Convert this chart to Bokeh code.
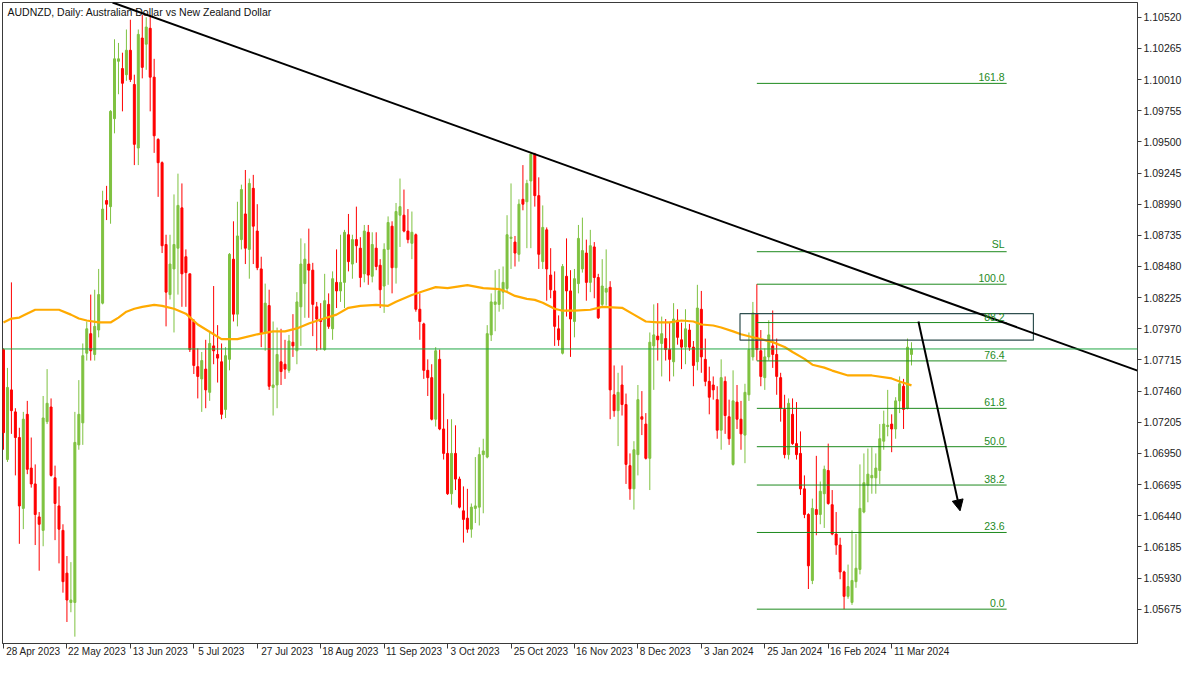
from bokeh.plotting import figure
from bokeh.models import (ColumnDataSource, FixedTicker, Range1d, Label, LabelSet, LinearAxis,
                          Arrow, NormalHead, Span, PrintfTickFormatter)
from bokeh.core.properties import value
from bokeh.embed import file_html
from bokeh.resources import INLINE

# ---------------- data (AUDNZD daily) ----------------
xtick_idx = [0, 16, 32, 48, 64, 80, 96, 112, 128, 144, 160, 176, 192, 208, 224]
xtick_labels = ["28 Apr 2023", "22 May 2023", "13 Jun 2023", "5 Jul 2023", "27 Jul 2023",
                "18 Aug 2023", "11 Sep 2023", "3 Oct 2023", "25 Oct 2023", "16 Nov 2023",
                "8 Dec 2023", "3 Jan 2024", "25 Jan 2024", "16 Feb 2024", "11 Mar 2024"]

ytick_values = [1.05675, 1.05930, 1.06185, 1.06440, 1.06695, 1.06950, 1.07205, 1.07460,
                1.07715, 1.07970, 1.08225, 1.08480, 1.08735, 1.08990, 1.09245, 1.09500,
                1.09755, 1.10010, 1.10265, 1.10520]

opens = [
1.0780, 1.0690, 1.0747, 1.0729, 1.0708, 1.0650, 1.0727, 1.0683, 1.0670, 1.0643,
1.0632, 1.0721, 1.0733, 1.0675, 1.0652, 1.0632, 1.0597, 1.0573, 1.0573, 1.0702,
1.0720, 1.0777, 1.0793, 1.0776, 1.0796, 1.0818, 1.0902, 1.0897, 1.0969, 1.1016,
1.1010, 1.1005, 1.1025, 1.0997, 1.0945, 1.1035, 1.1030, 1.1043, 1.1003, 1.0952,
1.0933, 1.0866, 1.0825, 1.0846, 1.0863, 1.0896, 1.0856, 1.0842, 1.0803, 1.0766,
1.0756, 1.0764, 1.0745, 1.0783, 1.0776, 1.0770, 1.0731, 1.0772, 1.0854, 1.0809,
1.0870, 1.0891, 1.0862, 1.0912, 1.0877, 1.0846, 1.0794, 1.0816, 1.0749, 1.0751,
1.0770, 1.0768, 1.0763, 1.0786, 1.0779, 1.0815, 1.0834, 1.0850, 1.0845, 1.0815,
1.0804, 1.0780, 1.0817, 1.0797, 1.0835, 1.0828, 1.0835, 1.0874, 1.0850, 1.0870,
1.0863, 1.0842, 1.0876, 1.0840, 1.0863, 1.0849, 1.0832, 1.0862, 1.0881, 1.0847,
1.0890, 1.0890, 1.0877, 1.0867, 1.0874, 1.0813, 1.0801, 1.0763, 1.0757, 1.0723,
1.0772, 1.0715, 1.0695, 1.0662, 1.0695, 1.0674, 1.0648, 1.0642, 1.0633, 1.0650,
1.0651, 1.0694, 1.0692, 1.0792, 1.0817, 1.0817, 1.0827, 1.0830, 1.0871, 1.0868,
1.0858, 1.0903, 1.0901, 1.0918, 1.0940, 1.0906, 1.0852, 1.0878, 1.0841, 1.0828,
1.0797, 1.0777, 1.0840, 1.0828, 1.0803, 1.0834, 1.0846, 1.0859, 1.0835, 1.0864,
1.0839, 1.0817, 1.0827, 1.0831, 1.0743, 1.0730, 1.0751, 1.0735, 1.0685, 1.0666,
1.0694, 1.0725, 1.0719, 1.0691, 1.0783, 1.0791, 1.0785, 1.0789, 1.0780, 1.0770,
1.0804, 1.0788, 1.0782, 1.0796, 1.0782, 1.0770, 1.0813, 1.0772, 1.0754, 1.0751,
1.0739, 1.0714, 1.0754, 1.0725, 1.0686, 1.0737, 1.0723, 1.0710, 1.0743, 1.0774,
1.0809, 1.0779, 1.0757, 1.0774, 1.0783, 1.0776, 1.0757, 1.0731, 1.0694, 1.0727,
1.0703, 1.0695, 1.0666, 1.0645, 1.0591, 1.0649, 1.0645, 1.0662, 1.0681, 1.0653,
1.0629, 1.0620, 1.0598, 1.0578, 1.0573, 1.0590, 1.0600, 1.0647, 1.0669, 1.0675,
1.0675, 1.0681, 1.0705, 1.0717, 1.0719, 1.0715, 1.0738, 1.0750, 1.0732, 1.0776]

highs = [
1.0781, 1.0765, 1.0835, 1.0732, 1.0716, 1.0729, 1.0738, 1.0708, 1.0686, 1.0647,
1.0742, 1.0764, 1.0740, 1.0685, 1.0668, 1.0637, 1.0611, 1.0606, 1.0729, 1.0755,
1.0785, 1.0803, 1.0825, 1.0829, 1.0846, 1.0910, 1.0914, 1.0976, 1.1034, 1.1031,
1.1023, 1.1042, 1.1050, 1.1005, 1.1042, 1.1054, 1.1052, 1.1054, 1.1018, 1.0953,
1.0934, 1.0874, 1.0874, 1.0907, 1.0924, 1.0916, 1.0862, 1.0842, 1.0805, 1.0781,
1.0778, 1.0788, 1.0794, 1.0832, 1.0800, 1.0785, 1.0782, 1.0859, 1.0885, 1.0901,
1.0915, 1.0927, 1.0920, 1.0923, 1.0899, 1.0856, 1.0834, 1.0829, 1.0803, 1.0798,
1.0797, 1.0788, 1.0792, 1.0809, 1.0827, 1.0871, 1.0867, 1.0879, 1.0851, 1.0819,
1.0818, 1.0842, 1.0826, 1.0844, 1.0862, 1.0874, 1.0878, 1.0891, 1.0874, 1.0897,
1.0872, 1.0882, 1.0882, 1.0876, 1.0876, 1.0854, 1.0867, 1.0889, 1.0885, 1.0900,
1.0920, 1.0911, 1.0895, 1.0893, 1.0875, 1.0826, 1.0802, 1.0772, 1.0768, 1.0782,
1.0780, 1.0744, 1.0723, 1.0723, 1.0718, 1.0676, 1.0668, 1.0666, 1.0654, 1.0692,
1.0700, 1.0707, 1.0800, 1.0826, 1.0845, 1.0846, 1.0848, 1.0890, 1.0916, 1.0873,
1.0903, 1.0931, 1.0919, 1.0941, 1.0941, 1.0921, 1.0898, 1.0880, 1.0863, 1.0844,
1.0808, 1.0850, 1.0871, 1.0845, 1.0846, 1.0882, 1.0888, 1.0870, 1.0878, 1.0868,
1.0842, 1.0854, 1.0862, 1.0836, 1.0767, 1.0761, 1.0767, 1.0744, 1.0695, 1.0705,
1.0751, 1.0746, 1.0728, 1.0794, 1.0817, 1.0818, 1.0807, 1.0805, 1.0802, 1.0818,
1.0813, 1.0802, 1.0813, 1.0801, 1.0787, 1.0833, 1.0828, 1.0789, 1.0766, 1.0758,
1.0750, 1.0772, 1.0758, 1.0739, 1.0763, 1.0751, 1.0738, 1.0752, 1.0794, 1.0819,
1.08335, 1.0796, 1.0781, 1.0804, 1.0812, 1.0789, 1.0761, 1.0743, 1.0740, 1.0740,
1.0737, 1.0713, 1.0677, 1.0646, 1.0658, 1.0693, 1.0672, 1.0685, 1.0703, 1.0665,
1.0647, 1.0626, 1.0599, 1.0604, 1.0632, 1.0629, 1.0686, 1.0695, 1.0699, 1.0700,
1.0695, 1.0719, 1.0730, 1.0747, 1.0727, 1.0741, 1.0758, 1.0756, 1.0789, 1.0786]

lows = [
1.0698, 1.0688, 1.0711, 1.0677, 1.0621, 1.0633, 1.0678, 1.0667, 1.0620, 1.0599,
1.0619, 1.0719, 1.0676, 1.0624, 1.0605, 1.0581, 1.0557, 1.0565, 1.0545, 1.0698,
1.0702, 1.0771, 1.0771, 1.0771, 1.0790, 1.0817, 1.0886, 1.0883, 1.0957, 1.0989,
1.0975, 1.1000, 1.0999, 1.0931, 1.0931, 1.1002, 1.1009, 1.0975, 1.0941, 1.0905,
1.0859, 1.0799, 1.0821, 1.0794, 1.0825, 1.0815, 1.0815, 1.0778, 1.0760, 1.0740,
1.0729, 1.0732, 1.0738, 1.0768, 1.0753, 1.0723, 1.0724, 1.0763, 1.0803, 1.0799,
1.0862, 1.0850, 1.0838, 1.0850, 1.0845, 1.0782, 1.0779, 1.0747, 1.0726, 1.0732,
1.0751, 1.0756, 1.0761, 1.0774, 1.0768, 1.0783, 1.0806, 1.0806, 1.0791, 1.0779,
1.0780, 1.0779, 1.0797, 1.0788, 1.0814, 1.0819, 1.0814, 1.0844, 1.0838, 1.0851,
1.0831, 1.0835, 1.0833, 1.0835, 1.0845, 1.0814, 1.0810, 1.0833, 1.0826, 1.0834,
1.0864, 1.0876, 1.0867, 1.0854, 1.0811, 1.0788, 1.0756, 1.0742, 1.0722, 1.0717,
1.0714, 1.0690, 1.0661, 1.0653, 1.0665, 1.0650, 1.0622, 1.0630, 1.0626, 1.0638,
1.0636, 1.0646, 1.0691, 1.0787, 1.0795, 1.0811, 1.0813, 1.0827, 1.0846, 1.0848,
1.0852, 1.0894, 1.0863, 1.0863, 1.0897, 1.0846, 1.0846, 1.0820, 1.0822, 1.0783,
1.0783, 1.0776, 1.0807, 1.0774, 1.0790, 1.0826, 1.0843, 1.0820, 1.0827, 1.0822,
1.0805, 1.0815, 1.0816, 1.0723, 1.0725, 1.0701, 1.0726, 1.0670, 1.0657, 1.0649,
1.0677, 1.0710, 1.0690, 1.0665, 1.0747, 1.0771, 1.0758, 1.0771, 1.0754, 1.0758,
1.0784, 1.0764, 1.0768, 1.0779, 1.0750, 1.0763, 1.0761, 1.0750, 1.0727, 1.0739,
1.0707, 1.0698, 1.0711, 1.0702, 1.0685, 1.0715, 1.0698, 1.0687, 1.0738, 1.0771,
1.0771, 1.0750, 1.0747, 1.0771, 1.0765, 1.0743, 1.0721, 1.0691, 1.0690, 1.0702,
1.0690, 1.0661, 1.0642, 1.0584, 1.0588, 1.0628, 1.0637, 1.0634, 1.0653, 1.0628,
1.0612, 1.0592, 1.05675, 1.0576, 1.0571, 1.0585, 1.0596, 1.0646, 1.0655, 1.0662,
1.0662, 1.0670, 1.0698, 1.0709, 1.0696, 1.0707, 1.0728, 1.0715, 1.0731, 1.0767]

closes = [
1.0712, 1.0749, 1.0730, 1.0708, 1.0652, 1.0723, 1.0682, 1.0670, 1.0645, 1.0637,
1.0724, 1.0736, 1.0677, 1.0654, 1.0633, 1.0590, 1.0575, 1.0575, 1.0704, 1.0727,
1.0775, 1.0797, 1.0779, 1.0799, 1.0825, 1.0895, 1.0899, 1.0975, 1.1018, 1.1018,
1.0998, 1.1025, 1.1001, 1.0948, 1.1038, 1.1011, 1.1044, 1.1003, 1.0955, 1.0933,
1.0865, 1.0827, 1.0850, 1.0866, 1.0898, 1.0842, 1.0843, 1.0780, 1.0767, 1.0758,
1.0771, 1.0747, 1.0785, 1.0779, 1.0773, 1.0727, 1.0775, 1.0858, 1.0809, 1.0873,
1.0911, 1.0863, 1.0916, 1.0881, 1.0847, 1.0793, 1.0818, 1.0750, 1.0751, 1.0776,
1.0762, 1.0764, 1.0787, 1.0783, 1.0819, 1.0850, 1.0854, 1.0845, 1.0817, 1.0805,
1.0803, 1.0820, 1.0799, 1.0838, 1.0828, 1.0835, 1.0876, 1.0852, 1.0870, 1.0865,
1.0839, 1.0877, 1.0841, 1.0866, 1.0848, 1.0829, 1.0862, 1.0884, 1.0847, 1.0893,
1.0897, 1.0877, 1.0870, 1.0876, 1.0813, 1.0803, 1.0763, 1.0757, 1.0723, 1.0779,
1.0715, 1.0695, 1.0662, 1.0695, 1.0674, 1.0651, 1.0641, 1.0633, 1.0651, 1.0652,
1.0694, 1.0697, 1.0793, 1.0819, 1.0819, 1.0828, 1.0835, 1.0874, 1.0872, 1.0859,
1.0899, 1.0899, 1.0916, 1.0940, 1.0906, 1.0858, 1.0880, 1.0846, 1.0829, 1.0799,
1.0788, 1.0848, 1.0828, 1.0805, 1.0838, 1.0871, 1.0861, 1.0835, 1.0865, 1.0839,
1.0806, 1.0832, 1.0830, 1.0747, 1.0730, 1.0745, 1.0735, 1.0686, 1.0666, 1.0698,
1.0739, 1.0723, 1.0691, 1.0786, 1.0792, 1.0788, 1.0793, 1.0780, 1.0772, 1.0805,
1.0790, 1.0782, 1.0797, 1.0782, 1.0767, 1.0814, 1.0774, 1.0754, 1.0741, 1.0747,
1.0714, 1.0757, 1.0726, 1.0707, 1.0738, 1.0723, 1.0711, 1.0745, 1.0780, 1.0810,
1.0780, 1.0758, 1.0774, 1.0792, 1.0776, 1.0758, 1.0732, 1.0694, 1.0736, 1.0703,
1.0694, 1.0666, 1.0645, 1.0603, 1.0650, 1.0645, 1.0664, 1.0682, 1.0654, 1.0629,
1.0620, 1.0598, 1.0578, 1.0586, 1.0591, 1.0601, 1.0650, 1.0671, 1.0678, 1.0677,
1.0683, 1.0707, 1.0719, 1.0718, 1.0715, 1.0738, 1.0752, 1.0731, 1.0782, 1.07805]

# moving average (read at sampled bars)
ma_idx = [0, 2, 4, 5, 8, 14, 17, 19, 21, 24, 27, 29, 31, 33, 35, 38, 40, 43, 46, 49,
          53, 55, 59, 64, 68, 71, 74, 77, 80, 84, 87, 90, 94, 97, 99, 103, 106, 109, 112,
          117, 121, 125, 127, 129, 132, 134, 136, 139, 141, 144, 148, 151, 156, 159, 162,
          165, 168, 171, 174, 176, 179, 181, 184, 186, 189, 191, 194, 197, 199, 202, 204,
          207, 209, 213, 216, 219, 224, 226, 229]
ma_values = [1.08022, 1.08054, 1.08062, 1.08078, 1.08126, 1.08126, 1.08086, 1.08054,
             1.08038, 1.08022, 1.08022, 1.08062, 1.08110, 1.08134, 1.08150, 1.08166,
             1.08158, 1.08134, 1.08094, 1.08005, 1.07925, 1.07885, 1.07885, 1.07925,
             1.07949, 1.07949, 1.07973, 1.08014, 1.08046, 1.08086, 1.08142, 1.08158,
             1.08166, 1.08158, 1.08191, 1.08247, 1.08279, 1.08311, 1.08303, 1.08327,
             1.08303, 1.08295, 1.08271, 1.08239, 1.08215, 1.08207, 1.08183, 1.08134,
             1.08118, 1.08118, 1.08126, 1.08150, 1.08142, 1.08086, 1.08030, 1.08022,
             1.08022, 1.08038, 1.08030, 1.08005, 1.07997, 1.07981, 1.07949, 1.07925,
             1.07901, 1.07885, 1.07861, 1.07821, 1.07780, 1.07724, 1.07676, 1.07652,
             1.07628, 1.07588, 1.07588, 1.07588, 1.07564, 1.07539, 1.07507]

last_price = 1.07805

fib_ratios = [0.0, 0.236, 0.382, 0.5, 0.618, 0.764, 0.882, 1.0, 1.1, 1.618]
fib_labels = ["0.0", "23.6", "38.2", "50.0", "61.8", "76.4", "88.2", "100.0", "SL", "161.8"]
fib_low, fib_high = 1.05675, 1.08335
fib_start_idx, fib_end_idx = 190, 253

zone_idx = [185.75, 259.75]
zone_price = [1.07877, 1.08094]

trend_idx = [27.5, 286.0]
trend_price = [1.10641, 1.07628]

arrow_idx = [230.75, 241.25]
arrow_price = [1.0803, 1.0648]

x_view = [-0.25, 286.0]
y_view = [1.05394, 1.10641]

# ---------------- styling ----------------
BULL = "#7FC241"
BEAR = "#FF0000"
FIB = "#1E8A1E"
FONT = "Liberation Sans"
AXC = "#3a3a3a"

n = min(len(opens), len(highs), len(lows), len(closes))
idx = list(range(n))
src = ColumnDataSource(dict(
    x=idx, o=opens[:n], h=highs[:n], l=lows[:n], c=closes[:n],
    top=[max(a, b) for a, b in zip(opens[:n], closes[:n])],
    bot=[min(a, b) for a, b in zip(opens[:n], closes[:n])],
    col=[BULL if c >= o else BEAR for o, c in zip(opens[:n], closes[:n])],
))

p = figure(width=1184, height=659, x_range=Range1d(*x_view), y_range=Range1d(*y_view),
           y_axis_location="right", output_backend="svg", toolbar_location=None,
           min_border_left=2, min_border_top=2, min_border_right=0, min_border_bottom=0)
p.grid.visible = False
p.background_fill_color = "white"
p.border_fill_color = "white"
p.outline_line_color = AXC
p.outline_line_width = 1

# y axis
ya = p.yaxis[0]
ya.ticker = FixedTicker(ticks=ytick_values)
ya.formatter = PrintfTickFormatter(format="%.5f")
ya.axis_line_color = AXC
ya.major_tick_line_color = AXC
ya.major_tick_out = 4
ya.major_tick_in = 0
ya.minor_tick_line_color = None
ya.major_label_text_font = FONT
ya.major_label_text_font_size = "10.5px"
ya.major_label_text_color = "#222222"
ya.major_label_standoff = 2

# x axis: tick marks only
xa = p.xaxis[0]
xa.ticker = FixedTicker(ticks=xtick_idx)
xa.major_label_overrides = {i: "" for i in xtick_idx}
xa.major_label_text_font_size = "1px"
xa.axis_line_color = AXC
xa.major_tick_line_color = AXC
xa.major_tick_out = 5
xa.major_tick_in = 0
xa.minor_tick_line_color = None
xa.major_label_standoff = 0

# second x axis carrying the date texts, each starting just right of its tick (MT5 style)
px_per_bar = 3.97
label_pos = [round(i + (len(t) * 2.45 + 3.0) / px_per_bar, 3) for i, t in zip(xtick_idx, xtick_labels)]
xa2 = LinearAxis(ticker=FixedTicker(ticks=label_pos),
                 major_label_overrides={pos: t for pos, t in zip(label_pos, xtick_labels)},
                 axis_line_color=None, major_tick_line_color=None, minor_tick_line_color=None,
                 major_tick_out=0, major_tick_in=0, major_label_standoff=-3,
                 major_label_text_font=FONT, major_label_text_font_size="10px",
                 major_label_text_color="#222222")
p.add_layout(xa2, "below")

# title inside chart
p.add_layout(Label(x=x_view[0], y=y_view[1], x_offset=5, y_offset=-3,
                   text="AUDNZD, Daily:  Australian Dollar vs New Zealand Dollar",
                   text_align="left", text_baseline="top", text_font=FONT,
                   text_font_size="10.5px", text_color="#111111", level="underlay"))

# candles
p.segment(x0="x", y0="l", x1="x", y1="h", source=src, line_color="col", line_width=1)
p.vbar(x="x", width=0.5, top="top", bottom="bot", source=src,
       fill_color="col", line_color="col", line_width=1)

# moving average
p.line(ma_idx, ma_values, line_color="#FFAA00", line_width=2.2)

# current price line
p.add_layout(Span(location=last_price, dimension="width", line_color="#22A845", line_width=1))

# fibonacci levels
fib_prices = [fib_low + r * (fib_high - fib_low) for r in fib_ratios]
p.segment(x0=[fib_start_idx] * len(fib_prices), y0=fib_prices,
          x1=[fib_end_idx] * len(fib_prices), y1=fib_prices, line_color=FIB, line_width=1)
fsrc = ColumnDataSource(dict(x=[fib_end_idx] * len(fib_prices), y=fib_prices, t=fib_labels))
p.add_layout(LabelSet(x="x", y="y", text="t", source=fsrc, x_offset=-2, y_offset=2,
                      text_align="right", text_baseline="bottom", text_font=value(FONT),
                      text_font_size=value("10.5px"), text_color=FIB))

# zone rectangle
p.quad(left=[zone_idx[0]], right=[zone_idx[1]], bottom=[zone_price[0]], top=[zone_price[1]],
       fill_alpha=0, line_color="#2F4F4F", line_width=1.2)

# trendline
p.line(trend_idx, trend_price, line_color="black", line_width=2)

# projection arrow
p.add_layout(Arrow(end=NormalHead(size=11, fill_color="black", line_color="black"),
                   x_start=arrow_idx[0], y_start=arrow_price[0],
                   x_end=arrow_idx[1], y_end=arrow_price[1],
                   line_color="black", line_width=2))

# last price tag on the axis
p.add_layout(Label(x=x_view[1], y=last_price, x_offset=2, text=f"{last_price:.5f}",
                   text_align="left", text_baseline="middle", text_font=FONT,
                   text_font_size="10.5px", text_color="white",
                   background_fill_color="#12B04A", padding=2, level="overlay"))

open("out.html", "w").write(file_html(p, INLINE))
